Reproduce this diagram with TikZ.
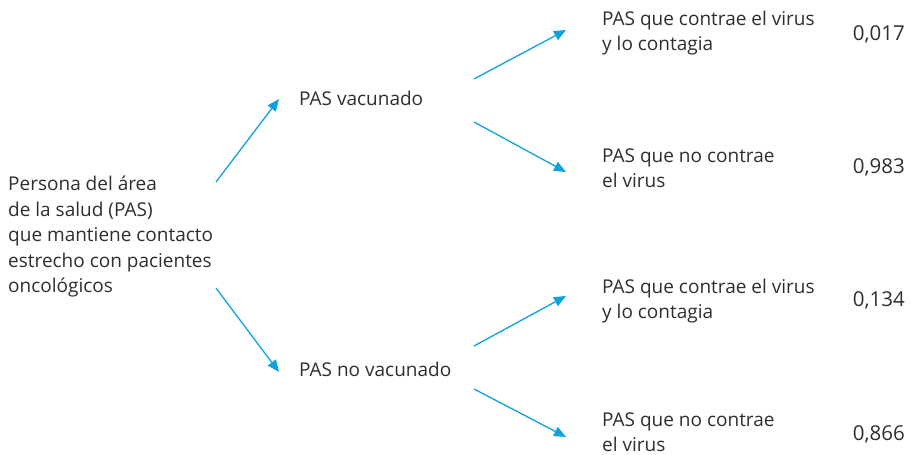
\documentclass[tikz,border=0pt]{standalone}
\usepackage{fontspec}
\setmainfont{Open Sans}
\usetikzlibrary{arrows.meta}
\definecolor{arrowblue}{HTML}{0EA2DD}
\definecolor{txt}{HTML}{2E2E2E}
\tikzset{
  lbl/.style={anchor=west, inner sep=0pt, align=left, text=txt, font=\fontsize{19}{25.5}\selectfont},
  num/.style={anchor=east, inner sep=0pt, text=txt, font=\fontsize{20.5}{25.5}\selectfont},
  conn/.style={draw=arrowblue, line width=1.3pt, -{Triangle[length=12pt, width=10pt]}}
}
\begin{document}
\begin{tikzpicture}[x=1pt, y=-1pt]
\useasboundingbox (0,0) rectangle (911,455);
\node[lbl] (root) at (8,237) {Persona del área\\de la salud (PAS)\\que mantiene contacto\\estrecho con pacientes\\oncológicos};
\node[lbl] (vac) at (299,98) {PAS vacunado};
\node[lbl] (novac) at (299,369) {PAS no vacunado};
\node[lbl] (l1) at (602,33) {PAS que contrae el virus\\y lo contagia};
\node[lbl] (l2) at (602,168) {PAS que no contrae\\el virus};
\node[lbl] (l3) at (602,301) {PAS que contrae el virus\\y lo contagia};
\node[lbl] (l4) at (602,432) {PAS que no contrae\\el virus};
\node[num] (n1) at (905,34) {0,017};
\node[num] (n2) at (905,167) {0,983};
\node[num] (n3) at (905,300) {0,134};
\node[num] (n4) at (905,434) {0,866};
\coordinate (ra) at (216,182);
\coordinate (rb) at (216,288);
\coordinate (va) at (279,99);
\coordinate (vb) at (279,372);
\coordinate (v1s) at (474,79);
\coordinate (v1e) at (566,30);
\coordinate (v2s) at (474,122);
\coordinate (v2e) at (566,172);
\coordinate (v3s) at (474,346);
\coordinate (v3e) at (566,296);
\coordinate (v4s) at (474,389);
\coordinate (v4e) at (566,437);
\draw[conn] (ra) -- (va);
\draw[conn] (rb) -- (vb);
\draw[conn] (v1s) -- (v1e);
\draw[conn] (v2s) -- (v2e);
\draw[conn] (v3s) -- (v3e);
\draw[conn] (v4s) -- (v4e);
\end{tikzpicture}
\end{document}
